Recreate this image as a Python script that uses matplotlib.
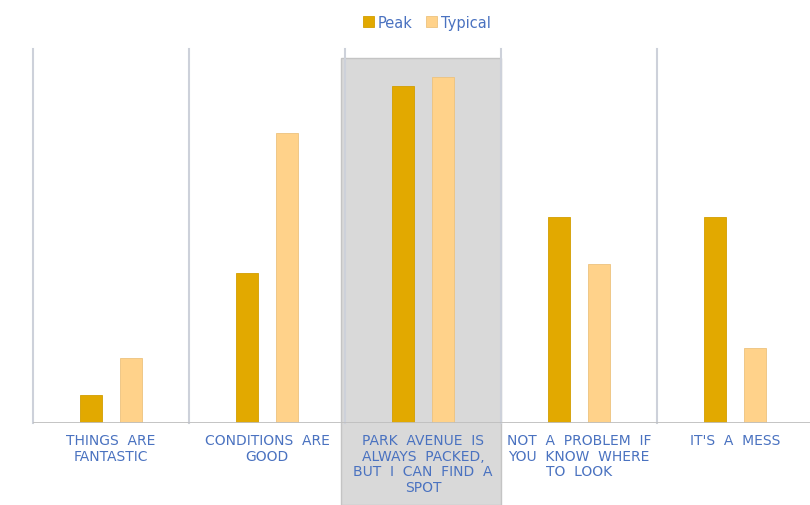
import numpy as np
import matplotlib.pyplot as plt
from matplotlib.patches import Rectangle
import matplotlib.transforms as mtransforms

# data
categories = ["THINGS  ARE\nFANTASTIC",
              "CONDITIONS  ARE\nGOOD",
              "PARK  AVENUE  IS\nALWAYS  PACKED,\nBUT  I  CAN  FIND  A\nSPOT",
              "NOT  A  PROBLEM  IF\nYOU  KNOW  WHERE\nTO  LOOK",
              "IT'S  A  MESS"]
peak = [3, 16, 36, 22, 22]
typical = [7, 31, 37, 17, 8]

peak_col = '#E2A900'
typ_col = '#FFD28A'
txt_col = '#4A72C0'

fig = plt.figure(figsize=(8.1, 5.06), dpi=100)
ax = fig.add_axes([33/810, 82/506, 780/810, 374/506])

x = np.arange(len(categories))
w = 0.141
off = 0.128

# highlighted category background
trans = mtransforms.blended_transform_factory(ax.transData, ax.transAxes)
ax.add_patch(Rectangle((1.474, -0.22), 1.026, 0.976 + 0.22, transform=trans,
                       facecolor='#D9D9D9', edgecolor='#C4C4C4', lw=1,
                       clip_on=False, zorder=0))

ax.bar(x - off, peak, w, color=peak_col, edgecolor='#D39E00', lw=0.6, label='Peak', zorder=3)
ax.bar(x + off, typical, w, color=typ_col, edgecolor='#EDC27E', lw=0.6, label='Typical', zorder=3)

# category separators
for s in np.arange(-0.5, 5.0, 1.0):
    ax.plot([s, s], [0, 40], color='#CDD1DA', lw=1.5, zorder=1, clip_on=False)
ax.axhline(0, color='#BFBFBF', lw=2, zorder=4)

ax.set_xlim(-0.5, 4.5)
ax.set_ylim(0, 40)
for sp in ax.spines.values():
    sp.set_visible(False)
ax.set_xticks([])
ax.set_yticks([])
ax.patch.set_alpha(0)

for i, lab in enumerate(categories):
    ax.text(i, -0.027, lab, transform=trans, ha='center', va='top',
            fontsize=10, color=txt_col, linespacing=1.15)

leg = fig.legend(loc='upper center', bbox_to_anchor=(0.527, 0.995), ncol=2,
                 frameon=False, fontsize=10.5, handlelength=0.75, handleheight=0.75,
                 handletextpad=0.3, columnspacing=0.9)
for t in leg.get_texts():
    t.set_color(txt_col)

fig.savefig('out.png', dpi=100)
